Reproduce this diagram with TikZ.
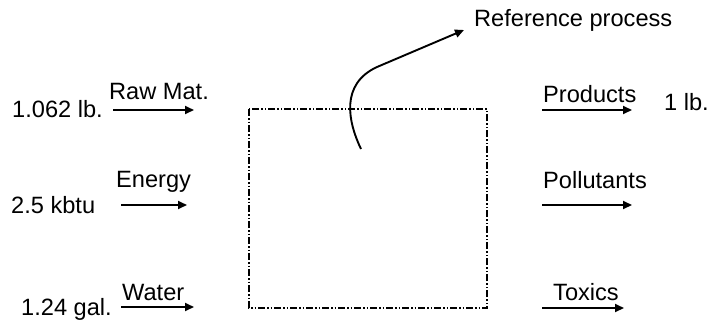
\documentclass[tikz,border=0pt]{standalone}
\usepackage{fontspec}
\setmainfont{Liberation Sans}
\usetikzlibrary{arrows.meta}
\begin{document}
\begin{tikzpicture}[x=1pt,y=-1pt,
  lbl/.style={anchor=base west,inner sep=0pt,font=\fontsize{23.6}{28}\selectfont},
  flow/.style={line width=1.9pt,-{Triangle[length=9pt,width=8pt]}},
  sysbox/.style={line width=1.8pt,dash pattern=on 7pt off 2pt on 1.5pt off 2pt on 1.5pt off 2pt}]
\useasboundingbox (0,0) rectangle (708,321);
% system boundary
\draw[sysbox] (249,109) rectangle (487,308);
% labels
\node[lbl] (t1) at (12,117) {1.062 lb.};
\node[lbl] (raw) at (109,99) {Raw Mat.};
\node[lbl] (t2) at (11,213) {2.5 kbtu};
\node[lbl] (energy) at (116,187) {Energy};
\node[lbl] (t3) at (21,315) {1.24 gal.};
\node[lbl] (water) at (122,300) {Water};
\node[lbl] (prod) at (543,102.5) {Products};
\node[lbl] (onelb) at (664,110) {1 lb.};
\node[lbl] (poll) at (543,188) {Pollutants};
\node[lbl] (tox) at (553,300) {Toxics};
\node[lbl] (ref) at (474,26.5) {Reference process};
% arrow end points
\coordinate (a1s) at (113,110); \coordinate (a1e) at (194,110);
\coordinate (a2s) at (121,205); \coordinate (a2e) at (187,205);
\coordinate (a3s) at (121,307); \coordinate (a3e) at (194,307);
\coordinate (b1s) at (542,110); \coordinate (b1e) at (632,110);
\coordinate (b2s) at (542,205); \coordinate (b2e) at (632,205);
\coordinate (b3s) at (542,308); \coordinate (b3e) at (624,308);
\coordinate (cs) at (361,149);
\coordinate (cm) at (377,67);
\coordinate (ce) at (464,30);
\draw[flow] (a1s) -- (a1e);
\draw[flow] (a2s) -- (a2e);
\draw[flow] (a3s) -- (a3e);
\draw[flow] (b1s) -- (b1e);
\draw[flow] (b2s) -- (b2e);
\draw[flow] (b3s) -- (b3e);
\draw[flow] (cs) .. controls (348,122) and (340,84) .. (cm) -- (ce);
\end{tikzpicture}
\end{document}
